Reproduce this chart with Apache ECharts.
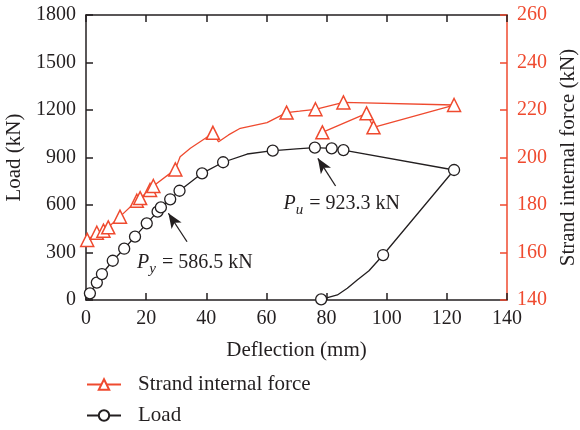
<!DOCTYPE html>
<html><head><meta charset="utf-8">
<script src="https://cdn.jsdelivr.net/npm/echarts@6/dist/echarts.min.js"></script>
<style>html,body{margin:0;padding:0;background:#fff}#c{width:580px;height:430px}</style>
</head><body><div id="c"></div>
<script>
// Load (kN) vs deflection (mm)
const loadX = [1.3,3.6,5.3,8.9,12.7,16.3,20.2,23.8,24.9,28,31.1,38.6,45.6,53.6,62.1,64.7,70,76.1,81.7,85.6,122.4,98.8,94.1,90.2,86.9,83.6,78.2];
const loadY = [42,110,164,248,324,400,484,558,585,636,690,800,870,922,943,947,955,962,958,947,821,284,185,126,74,32,4];
const loadMark = [1,1,1,1,1,1,1,1,1,1,1,1,1,0,1,0,0,1,1,1,1,1,0,0,0,0,1];
// Strand internal force (kN) vs deflection (mm)
const strandX = [0.4,3.6,5.8,7.4,11.3,16.9,18,21.3,22.4,29.7,31.3,34.7,39.7,42.2,44.1,47.4,51.3,60.2,66.7,71,76.3,85.6,122.4,95.6,93.3,78.6];
const strandY = [165.3,168.3,169.2,170.6,175.1,181.8,182.9,186.3,188,195,200.3,203.9,208.1,210.4,206.6,209.5,212.3,214.7,218.9,219.5,220.3,223.2,222.1,212.7,218.6,210.6];
const strandMark = [1,1,1,1,1,1,1,1,1,1,0,0,0,1,0,0,0,0,1,0,1,1,1,1,1,1];
// Annotations
const puText = {x: 65.7, y: 606, sub: 'u', value: '923.3 kN'};
const pyText = {x: 17, y: 234, sub: 'y', value: '586.5 kN'};
const puArrow = [[83, 720], [77.1, 895]];
const pyArrow = [[33.6, 368], [27.4, 548]];

const TXT = '#231f20', RED = '#ef4a2f';
const FONT = 'Liberation Serif';

function mk(xs, ys, marks){ return xs.map((x,i)=> marks[i] ? [x, ys[i]] : {value:[x, ys[i]], symbol:'none'}); }
function annot(a){
  return {coord:[a.x, a.y], symbol:'circle', symbolSize:0,
    label:{show:true, position:'right', distance:0,
      formatter:'{p|P}{s|'+a.sub+'}{t| = '+a.value+'}',
      rich:{
        p:{fontFamily:FONT, fontStyle:'italic', fontSize:20, color:TXT},
        s:{fontFamily:FONT, fontStyle:'italic', fontSize:15, color:TXT, padding:[12,1,0,0]},
        t:{fontFamily:FONT, fontSize:20, color:TXT}
      }}};
}

const chart = echarts.init(document.getElementById('c'));
const blackLine = {onZero:false, lineStyle:{color:TXT, width:1.5}};
const blackTick = {inside:true, length:7, lineStyle:{color:TXT, width:1.5}};
chart.setOption({
  animation:false,
  textStyle:{fontFamily:FONT},
  grid:{left:86, right:73, top:15, bottom:130, outerBoundsMode:'none', containLabel:false},
  legend:{
    orient:'vertical', left:86, top:374, padding:0, itemWidth:34, itemHeight:13, itemGap:10,
    textStyle:{fontFamily:FONT, fontSize:21, color:TXT, padding:[0,0,0,12]},
    data:['Strand internal force','Load']
  },
  xAxis:[{
    type:'value', min:0, max:140, interval:20, position:'bottom',
    name:'Deflection (mm)', nameLocation:'middle', nameGap:40,
    nameTextStyle:{fontFamily:FONT, fontSize:21, color:TXT},
    axisLine:blackLine, axisTick:blackTick,
    axisLabel:{fontFamily:FONT, fontSize:20, color:TXT, margin:9},
    splitLine:{show:false}
  },{
    type:'value', min:0, max:140, interval:20, position:'top',
    axisLine:blackLine, axisTick:blackTick,
    axisLabel:{show:false}, splitLine:{show:false}
  }],
  yAxis:[{
    type:'value', min:0, max:1800, interval:300, position:'left',
    name:'Load (kN)', nameLocation:'middle', nameGap:58, nameRotate:90,
    nameTextStyle:{fontFamily:FONT, fontSize:21, color:TXT},
    axisLine:{show:true, onZero:false, lineStyle:{color:TXT, width:1.5}},
    axisTick:{show:true, inside:true, length:7, lineStyle:{color:TXT, width:1.5}},
    axisLabel:{fontFamily:FONT, fontSize:20, color:TXT, margin:10, formatter:v=>String(v)},
    splitLine:{show:false}
  },{
    type:'value', min:140, max:260, interval:20, position:'right',
    name:'Strand internal force (kN)', nameLocation:'middle', nameGap:48, nameRotate:90,
    nameTextStyle:{fontFamily:FONT, fontSize:21, color:TXT},
    axisLine:{show:true, onZero:false, lineStyle:{color:RED, width:1.5}},
    axisTick:{show:true, inside:true, length:7, lineStyle:{color:RED, width:1.5}},
    axisLabel:{fontFamily:FONT, fontSize:20, color:RED, margin:10, formatter:v=>String(v)},
    splitLine:{show:false}
  }],
  series:[{
    name:'Strand internal force', type:'line', xAxisIndex:0, yAxisIndex:1,
    data: mk(strandX, strandY, strandMark),
    symbol:'triangle', symbolSize:13, showAllSymbol:true,
    lineStyle:{color:RED, width:1.3},
    itemStyle:{color:'#fff', borderColor:RED, borderWidth:1.5}
  },{
    name:'Load', type:'line', xAxisIndex:0, yAxisIndex:0,
    data: mk(loadX, loadY, loadMark),
    symbol:'circle', symbolSize:11, showAllSymbol:true,
    lineStyle:{color:TXT, width:1.3},
    itemStyle:{color:'#fff', borderColor:TXT, borderWidth:1.3},
    markLine:{silent:true, symbol:['none','arrow'], symbolSize:[9,15],
      lineStyle:{color:TXT, width:1.3, type:'solid'}, label:{show:false},
      data:[[{coord:puArrow[0]},{coord:puArrow[1]}],[{coord:pyArrow[0]},{coord:pyArrow[1]}]]},
    markPoint:{silent:true, data:[annot(puText), annot(pyText)]}
  }]
});
</script></body></html>
